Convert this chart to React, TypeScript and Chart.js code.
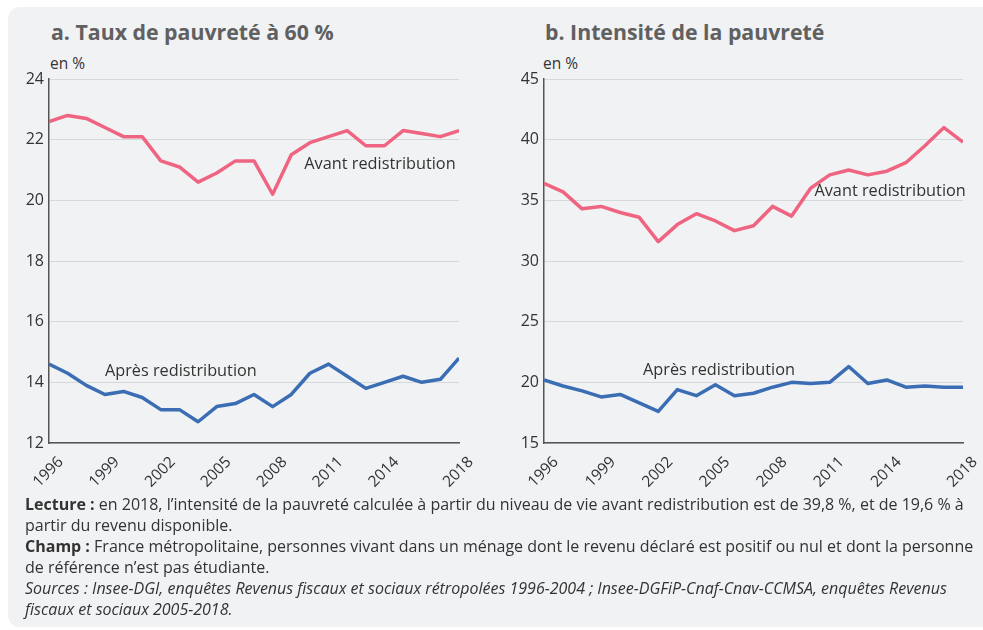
import React, { useEffect, useRef } from "react";
import { Chart, registerables } from "chart.js";

Chart.register(...registerables);

const years = [1996, 1997, 1998, 1999, 2000, 2001, 2002, 2003, 2004, 2005, 2006, 2007, 2008, 2009, 2010, 2011, 2012, 2013, 2014, 2015, 2016, 2017, 2018];
const xTickYears = [1996, 1999, 2002, 2005, 2008, 2011, 2014, 2018];

const tauxAvant = [22.6, 22.8, 22.7, 22.4, 22.1, 22.1, 21.3, 21.1, 20.6, 20.9, 21.3, 21.3, 20.2, 21.5, 21.9, 22.1, 22.3, 21.8, 21.8, 22.3, 22.2, 22.1, 22.3];
const tauxApres = [14.6, 14.3, 13.9, 13.6, 13.7, 13.5, 13.1, 13.1, 12.7, 13.2, 13.3, 13.6, 13.2, 13.6, 14.3, 14.6, 14.2, 13.8, 14.0, 14.2, 14.0, 14.1, 14.8];
const intensAvant = [36.4, 35.7, 34.3, 34.5, 34.0, 33.6, 31.6, 33.0, 33.9, 33.3, 32.5, 32.9, 34.5, 33.7, 36.0, 37.1, 37.5, 37.1, 37.4, 38.1, 39.5, 41.0, 39.8];
const intensApres = [20.2, 19.7, 19.3, 18.8, 19.0, 18.3, 17.6, 19.4, 18.9, 19.8, 18.9, 19.1, 19.6, 20.0, 19.9, 20.0, 21.3, 19.9, 20.2, 19.6, 19.7, 19.6, 19.6];

const seriesNames = ["Avant redistribution", "Après redistribution"];

// in-chart labels: [x (year), y (value)]
const tauxLabelPos = [[2009.7, 21.2], [1999.0, 14.35]];
const intensLabelPos = [[2010.2, 35.7], [2001.2, 21.0]];

const PINK = "#ef6480";
const BLUE = "#3b6db4";
const FONT = "'Open Sans', sans-serif";

const labelPlugin = {
  id: "seriesLabels",
  afterDatasetsDraw(chart: any, _args: any, opts: any) {
    const { ctx, scales } = chart;
    const pos = opts.positions || [];
    ctx.save();
    ctx.font = `16.3px ${FONT}`;
    ctx.fillStyle = "#333333";
    ctx.textAlign = "left";
    ctx.textBaseline = "middle";
    pos.forEach((p: number[], i: number) => {
      ctx.fillText(seriesNames[i], scales.x.getPixelForValue(p[0]), scales.y.getPixelForValue(p[1]));
    });
    ctx.restore();
  },
};

type PanelProps = {
  avant: number[];
  apres: number[];
  min: number;
  max: number;
  step: number;
  yWidth: number;
  padRight: number;
  positions: number[][];
  width: number;
};

function Panel({ avant, apres, min, max, step, yWidth, padRight, positions, width }: PanelProps) {
  const ref = useRef<HTMLCanvasElement>(null);
  useEffect(() => {
    if (!ref.current) return;
    const chart = new Chart(ref.current, {
      type: "line",
      data: {
        datasets: [
          {
            label: seriesNames[0],
            data: years.map((y, i) => ({ x: y, y: avant[i] })),
            borderColor: PINK,
            borderWidth: 3.5,
            pointRadius: 0,
            tension: 0,
            borderJoinStyle: "round",
          },
          {
            label: seriesNames[1],
            data: years.map((y, i) => ({ x: y, y: apres[i] })),
            borderColor: BLUE,
            borderWidth: 3.5,
            pointRadius: 0,
            tension: 0,
            borderJoinStyle: "round",
          },
        ],
      },
      options: {
        animation: false,
        responsive: false,
        maintainAspectRatio: false,
        layout: { padding: { left: 0, top: 19, right: padRight, bottom: 7 } },
        plugins: {
          legend: { display: false },
          tooltip: { enabled: false },
          title: { display: false },
          seriesLabels: { positions },
        } as any,
        scales: {
          x: {
            type: "linear",
            min: 1996,
            max: 2018,
            afterBuildTicks: (scale: any) => {
              scale.ticks = xTickYears.map((v) => ({ value: v }));
            },
            afterFit: (scale: any) => {
              scale.height = 50;
              scale.paddingLeft = 0;
              scale.paddingRight = 0;
            },
            grid: { display: false, drawTicks: false },
            border: { display: true, color: "#555555", width: 1.5 },
            ticks: {
              autoSkip: false,
              maxRotation: 45,
              minRotation: 45,
              padding: 10,
              labelOffset: 12,
              color: "#333333",
              font: { family: FONT, size: 15.5 },
              callback: (v: any) => String(v),
            },
          },
          y: {
            min,
            max,
            afterFit: (scale: any) => {
              scale.width = yWidth;
            },
            grid: { color: "#d6d8dc", lineWidth: 1, drawTicks: false },
            border: { display: true, color: "#555555", width: 1.5 },
            ticks: {
              stepSize: step,
              padding: 5,
              color: "#333333",
              font: { family: FONT, size: 16 },
            },
          },
        },
      },
      plugins: [labelPlugin],
    } as any);
    return () => chart.destroy();
  }, []);
  return <canvas ref={ref} width={width} height={440} style={{ width, height: 440, display: "block" }} />;
}

export default function App() {
  const titleStyle: React.CSSProperties = {
    position: "absolute",
    top: 17,
    fontFamily: FONT,
    fontWeight: 700,
    fontSize: 21.3,
    color: "#606060",
    whiteSpace: "nowrap",
    lineHeight: "30px",
  };
  const unitStyle: React.CSSProperties = {
    position: "absolute",
    top: 53,
    fontFamily: FONT,
    fontSize: 15.5,
    color: "#333333",
    lineHeight: "20px",
    whiteSpace: "nowrap",
  };
  const footStyle: React.CSSProperties = {
    position: "absolute",
    left: 25,
    top: 494,
    fontFamily: FONT,
    fontSize: 16,
    lineHeight: "21px",
    color: "#333333",
    whiteSpace: "nowrap",
  };
  return (
    <div style={{ position: "relative", width: 983, height: 630, overflow: "hidden", background: "#ffffff" }}>
      <style>{`body{margin:0}`}</style>
      <div
        style={{
          position: "absolute",
          left: 8,
          top: 7,
          width: 990,
          height: 620,
          background: "#f1f2f4",
          borderRadius: 12,
        }}
      />
      <div style={{ ...titleStyle, left: 51 }}>a. Taux de pauvreté à 60 %</div>
      <div style={{ ...titleStyle, left: 545 }}>b. Intensité de la pauvreté</div>
      <div style={{ ...unitStyle, left: 50 }}>en %</div>
      <div style={{ ...unitStyle, left: 543 }}>en %</div>
      <div style={{ position: "absolute", left: 0, top: 60 }}>
        <Panel avant={tauxAvant} apres={tauxApres} min={12} max={24} step={2} yWidth={49} padRight={31} positions={tauxLabelPos} width={490} />
      </div>
      <div style={{ position: "absolute", left: 490, top: 60 }}>
        <Panel avant={intensAvant} apres={intensApres} min={15} max={45} step={5} yWidth={54} padRight={20} positions={intensLabelPos} width={493} />
      </div>
      <div style={footStyle}>
        <div>
          <b>Lecture :</b> en 2018, l’intensité de la pauvreté calculée à partir du niveau de vie avant redistribution est de 39,8 %, et de 19,6 % à
          <br />
          partir du revenu disponible.
        </div>
        <div>
          <b>Champ :</b> France métropolitaine, personnes vivant dans un ménage dont le revenu déclaré est positif ou nul et dont la personne
          <br />
          de référence n’est pas étudiante.
        </div>
        <div style={{ fontStyle: "italic" }}>
          Sources : Insee-DGI, enquêtes Revenus fiscaux et sociaux rétropolées 1996-2004 ; Insee-DGFiP-Cnaf-Cnav-CCMSA, enquêtes Revenus
          <br />
          fiscaux et sociaux 2005-2018.
        </div>
      </div>
    </div>
  );
}
